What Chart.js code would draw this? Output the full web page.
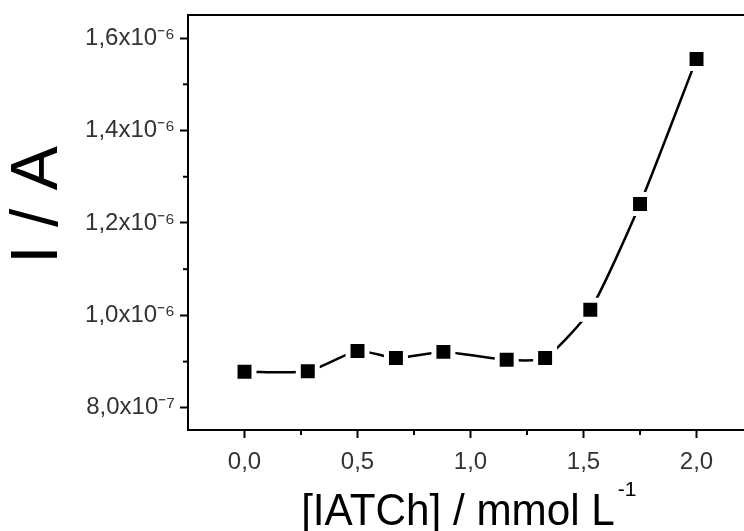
<!DOCTYPE html>
<html>
<head>
<meta charset="utf-8">
<script src="https://cdn.jsdelivr.net/npm/chart.js@4"></script>
<style>
  html, body { margin: 0; padding: 0; background: #fff; }
  #wrap { width: 744px; height: 531px; }
  canvas { display: block; }
</style>
</head>
<body>
<div id="wrap"><canvas id="chart" width="744" height="531"></canvas></div>
<script>
// concentration [IATCh] / mmol L-1 and current I / A
const concValues = [0, 0.28, 0.50, 0.67, 0.88, 1.16, 1.33, 1.53, 1.75, 2.0];
const currentValues = [0.878e-6, 0.879e-6, 0.923e-6, 0.908e-6, 0.921e-6, 0.904e-6, 0.908e-6, 1.012e-6, 1.241e-6, 1.555e-6];

const xTicks = [0, 0.5, 1.0, 1.5, 2.0];
const xTickLabels = ['0,0', '0,5', '1,0', '1,5', '2,0'];
const xMinor = [0.25, 0.75, 1.25, 1.75];

const yTicks = [0.8e-6, 1.0e-6, 1.2e-6, 1.4e-6, 1.6e-6];
const yTickLabels = ['8,0x10\u207B\u2077', '1,0x10\u207B\u2076', '1,2x10\u207B\u2076', '1,4x10\u207B\u2076', '1,6x10\u207B\u2076'];
const yMinor = [0.9e-6, 1.1e-6, 1.3e-6, 1.5e-6];

const xTitle = '[IATCh] / mmol L';
const xTitleSup = '-1';
const yTitle = 'I / A';

const fontFamily = '"Liberation Sans", Arial, sans-serif';

// no extra padding from tick labels, chart area is fixed by the axis sizes
function noPadding(s) {
  s.paddingTop = 0;
  s.paddingBottom = 0;
  s.paddingLeft = 0;
  s.paddingRight = 0;
}

// minor ticks and the axis titles (x title slightly condensed, with a superscript)
const extras = {
  id: 'extras',
  afterDraw(chart) {
    const ctx = chart.ctx;
    const x = chart.scales.x, y = chart.scales.y;
    const area = chart.chartArea;
    ctx.save();
    ctx.strokeStyle = '#000';
    ctx.lineWidth = 2;
    xMinor.forEach(v => {
      const px = x.getPixelForValue(v);
      ctx.beginPath();
      ctx.moveTo(px, area.bottom);
      ctx.lineTo(px, area.bottom + 5);
      ctx.stroke();
    });
    yMinor.forEach(v => {
      const py = y.getPixelForValue(v);
      ctx.beginPath();
      ctx.moveTo(area.left, py);
      ctx.lineTo(area.left - 5, py);
      ctx.stroke();
    });
    ctx.restore();

    // y title
    ctx.save();
    ctx.translate(39, 205);
    ctx.rotate(-Math.PI / 2);
    ctx.fillStyle = '#000';
    ctx.font = '66px ' + fontFamily;
    ctx.textAlign = 'center';
    ctx.textBaseline = 'middle';
    ctx.fillText(yTitle, 0, 0);
    ctx.restore();

    // x title
    ctx.save();
    ctx.fillStyle = '#000';
    ctx.textAlign = 'left';
    ctx.textBaseline = 'alphabetic';
    ctx.font = '44px ' + fontFamily;
    const squeeze = 0.96;
    const w = ctx.measureText(xTitle).width * squeeze;
    const left = 470 - (w + 24) / 2;
    ctx.translate(left, 525);
    ctx.scale(squeeze, 1);
    ctx.fillText(xTitle, 0, 0);
    ctx.restore();
    ctx.save();
    ctx.fillStyle = '#000';
    ctx.font = '21px ' + fontFamily;
    ctx.textAlign = 'left';
    ctx.textBaseline = 'alphabetic';
    ctx.fillText(xTitleSup, left + w + 3, 496);
    ctx.restore();
  }
};

new Chart(document.getElementById('chart'), {
  type: 'line',
  data: {
    datasets: [{
      data: concValues.map((c, i) => ({ x: c, y: currentValues[i] })),
      borderColor: '#000',
      borderWidth: 2.5,
      tension: 0.2,
      pointStyle: 'rect',
      pointRadius: 13.4,
      pointHoverRadius: 13.4,
      pointBackgroundColor: '#000',
      pointBorderColor: '#fff',
      pointBorderWidth: 5,
      fill: false
    }]
  },
  plugins: [extras],
  options: {
    responsive: false,
    animation: false,
    events: [],
    layout: { padding: 0, autoPadding: false },
    plugins: {
      legend: { display: false },
      tooltip: { enabled: false }
    },
    scales: {
      x: {
        type: 'linear',
        position: 'bottom',
        min: -0.25,
        max: 2.21,
        afterBuildTicks: s => { s.ticks = xTicks.map(v => ({ value: v })); },
        afterFit: s => { s.height = 101; noPadding(s); },
        ticks: {
          callback: (v, i) => xTickLabels[i],
          font: { family: fontFamily, size: 24 },
          color: '#333',
          padding: 10,
          maxRotation: 0,
          autoSkip: false
        },
        grid: { drawOnChartArea: false, drawTicks: true, tickLength: 8, tickWidth: 2, tickColor: '#000' },
        border: { color: '#000', width: 2 }
      },
      xTop: {
        type: 'linear',
        position: 'top',
        min: -0.25,
        max: 2.21,
        afterFit: s => { s.height = 15; noPadding(s); },
        ticks: { display: false },
        grid: { display: false },
        border: { color: '#000', width: 2 }
      },
      y: {
        type: 'linear',
        min: 0.752e-6,
        max: 1.65e-6,
        afterBuildTicks: s => { s.ticks = yTicks.map(v => ({ value: v })); },
        afterFit: s => { s.width = 188; noPadding(s); },
        ticks: {
          callback: (v, i) => yTickLabels[i],
          font: { family: fontFamily, size: 24 },
          color: '#333',
          padding: 5,
          autoSkip: false
        },
        grid: { drawOnChartArea: false, drawTicks: true, tickLength: 8, tickWidth: 2, tickColor: '#000' },
        border: { color: '#000', width: 2 }
      }
    }
  }
});
</script>
</body>
</html>
